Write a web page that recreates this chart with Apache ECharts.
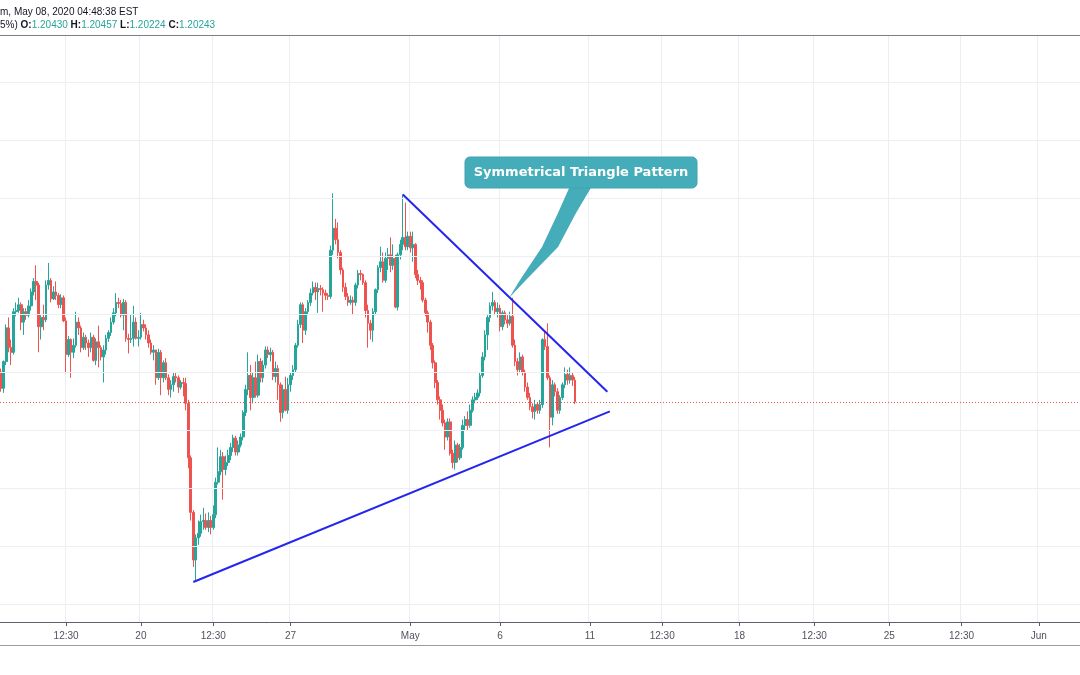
<!DOCTYPE html>
<html><head><meta charset="utf-8">
<script src="https://cdn.jsdelivr.net/npm/echarts/dist/echarts.min.js"></script>
<style>html,body{margin:0;padding:0;background:#fff}#c{width:1080px;height:675px}</style>
</head><body><div id="c"></div>
<script>
// ---- x axis: 2-hour slots (trading sessions), incl. empty future slots ----
const N_SLOTS = 433;
const tickIdx  = [26, 56, 85, 116, 164, 200, 236, 265, 296, 326, 356, 385, 416];
const tickText = ['12:30','20','12:30','27','May','6','11','12:30','18','12:30','25','12:30','Jun'];

// ---- OHLC (2h candles) ----
const open = [
1.2050,1.2036,1.2059,1.2088,1.2071,1.2067,1.2102,1.2103,1.2108,1.2093,
1.2102,1.2099,1.2107,1.2119,1.2128,1.2125,1.2089,1.2097,1.2095,1.2125,
1.2129,1.2113,1.2119,1.2116,1.2108,1.2114,1.2094,1.2065,1.2078,1.2067,
1.2073,1.2093,1.2088,1.2071,1.2080,1.2075,1.2071,1.2080,1.2060,1.2076,
1.2071,1.2063,1.2069,1.2079,1.2084,1.2093,1.2101,1.2110,1.2109,1.2099,
1.2110,1.2079,1.2078,1.2079,1.2093,1.2079,1.2080,1.2091,1.2088,1.2082,
1.2075,1.2067,1.2069,1.2045,1.2067,1.2045,1.2058,1.2045,1.2035,1.2039,
1.2046,1.2045,1.2037,1.2041,1.2040,1.2023,1.1976,1.1929,1.1888,1.1907,
1.1911,1.1921,1.1922,1.1916,1.1922,1.1916,1.1927,1.1955,1.1964,1.1977,
1.1966,1.1972,1.1978,1.1985,1.1993,1.1981,1.1987,1.1994,1.2015,1.2035,
1.2047,1.2028,1.2045,1.2030,1.2059,1.2045,1.2056,1.2069,1.2065,1.2067,
1.2046,1.2053,1.2039,1.2015,1.2035,1.2017,1.2039,1.2047,1.2052,1.2073,
1.2091,1.2108,1.2086,1.2102,1.2110,1.2118,1.2123,1.2119,1.2122,1.2121,
1.2118,1.2116,1.2115,1.2155,1.2174,1.2164,1.2153,1.2138,1.2123,1.2115,
1.2110,1.2112,1.2110,1.2125,1.2135,1.2134,1.2127,1.2103,1.2092,1.2086,
1.2102,1.2121,1.2140,1.2145,1.2129,1.2148,1.2151,1.2142,1.2148,1.2106,
1.2151,1.2160,1.2166,1.2158,1.2167,1.2157,1.2160,1.2134,1.2129,1.2127,
1.2112,1.2101,1.2093,1.2073,1.2058,1.2041,1.2026,1.2017,1.2006,1.1994,
1.2007,1.1980,1.1972,1.1987,1.1976,1.1985,1.2004,1.2009,1.2004,1.2017,
1.2026,1.2028,1.2032,1.2047,1.2063,1.2082,1.2097,1.2107,1.2110,1.2102,
1.2105,1.2089,1.2101,1.2095,1.2092,1.2098,1.2073,1.2059,1.2052,1.2063,
1.2050,1.2037,1.2028,1.2020,1.2016,1.2022,1.2017,1.2022,1.2078,1.2072,
1.2045,1.2011,1.2039,1.2033,1.2017,1.2028,1.2039,1.2048,1.2043,1.2047,
1.20430];
const high = [
1.2053,1.2060,1.2091,1.2097,1.2078,1.2105,1.2110,1.2114,1.2110,1.2105,
1.2105,1.2112,1.2122,1.2131,1.2142,1.2127,1.2099,1.2108,1.2129,1.2144,
1.2131,1.2124,1.2128,1.2118,1.2117,1.2116,1.2097,1.2081,1.2079,1.2079,
1.2102,1.2097,1.2090,1.2084,1.2082,1.2078,1.2084,1.2082,1.2079,1.2090,
1.2073,1.2073,1.2082,1.2086,1.2097,1.2105,1.2118,1.2114,1.2112,1.2113,
1.2112,1.2083,1.2099,1.2107,1.2097,1.2086,1.2101,1.2095,1.2091,1.2086,
1.2078,1.2073,1.2069,1.2070,1.2069,1.2060,1.2062,1.2048,1.2043,1.2050,
1.2050,1.2047,1.2043,1.2045,1.2045,1.2026,1.1978,1.1931,1.1910,1.1922,
1.1927,1.1933,1.1928,1.1929,1.1926,1.1935,1.1959,1.1985,1.1983,1.1981,
1.1978,1.1983,1.1989,1.1996,1.1995,1.1991,1.1997,1.2017,1.2039,1.2067,
1.2056,1.2050,1.2059,1.2065,1.2062,1.2060,1.2072,1.2072,1.2071,1.2069,
1.2059,1.2056,1.2041,1.2039,1.2046,1.2045,1.2050,1.2056,1.2075,1.2095,
1.2110,1.2110,1.2105,1.2112,1.2122,1.2128,1.2127,1.2127,1.2125,1.2123,
1.2121,1.2118,1.2159,1.2204,1.2182,1.2179,1.2155,1.2140,1.2127,1.2118,
1.2116,1.2115,1.2127,1.2138,1.2138,1.2135,1.2129,1.2108,1.2095,1.2105,
1.2122,1.2142,1.2158,1.2153,1.2153,1.2157,1.2166,1.2160,1.2151,1.2153,
1.2164,1.2203,1.2196,1.2171,1.2171,1.2171,1.2161,1.2138,1.2132,1.2129,
1.2114,1.2103,1.2095,1.2075,1.2060,1.2043,1.2029,1.2022,1.2009,1.2010,
1.2010,1.1983,1.1991,1.1989,1.1988,1.2009,1.2012,1.2016,1.2022,1.2029,
1.2032,1.2035,1.2050,1.2067,1.2086,1.2099,1.2110,1.2119,1.2112,1.2110,
1.2108,1.2103,1.2103,1.2099,1.2102,1.2114,1.2078,1.2062,1.2067,1.2065,
1.2052,1.2041,1.2032,1.2023,1.2026,1.2024,1.2026,1.2079,1.2086,1.2092,
1.2047,1.2043,1.2041,1.2036,1.2030,1.2041,1.2054,1.2052,1.2054,1.2050,
1.20457];
const low = [
1.2033,1.2032,1.2056,1.2067,1.2056,1.2065,1.2098,1.2101,1.2086,1.2082,
1.2095,1.2097,1.2103,1.2116,1.2112,1.2067,1.2078,1.2086,1.2093,1.2121,
1.2110,1.2112,1.2112,1.2105,1.2105,1.2093,1.2049,1.2063,1.2045,1.2062,
1.2071,1.2082,1.2067,1.2069,1.2069,1.2063,1.2067,1.2059,1.2056,1.2054,
1.2060,1.2041,1.2065,1.2076,1.2081,1.2091,1.2098,1.2105,1.2097,1.2086,
1.2076,1.2066,1.2075,1.2072,1.2078,1.2072,1.2078,1.2085,1.2078,1.2071,
1.2065,1.2060,1.2039,1.2043,1.2030,1.2041,1.2043,1.2030,1.2028,1.2033,
1.2041,1.2032,1.2035,1.2029,1.2017,1.1967,1.1922,1.1882,1.1869,1.1901,
1.1908,1.1914,1.1914,1.1912,1.1910,1.1914,1.1924,1.1953,1.1961,1.1940,
1.1961,1.1969,1.1974,1.1981,1.1978,1.1978,1.1985,1.1991,1.2012,1.2030,
1.2017,1.2023,1.2028,1.2028,1.2041,1.2041,1.2053,1.2062,1.2059,1.2043,
1.2041,1.2026,1.2007,1.2010,1.2016,1.2014,1.2033,1.2043,1.2050,1.2071,
1.2088,1.2075,1.2082,1.2099,1.2107,1.2116,1.2112,1.2101,1.2116,1.2102,
1.2112,1.2112,1.2113,1.2151,1.2160,1.2148,1.2134,1.2119,1.2112,1.2107,
1.2108,1.2099,1.2107,1.2122,1.2129,1.2125,1.2097,1.2071,1.2078,1.2076,
1.2099,1.2118,1.2136,1.2127,1.2127,1.2138,1.2136,1.2138,1.2105,1.2103,
1.2147,1.2155,1.2155,1.2155,1.2153,1.2145,1.2131,1.2125,1.2121,1.2110,
1.2098,1.2084,1.2069,1.2053,1.2036,1.2022,1.2009,1.2003,1.1983,1.1991,
1.1978,1.1967,1.1966,1.1972,1.1974,1.1983,1.2000,1.2000,1.2002,1.2015,
1.2023,1.2026,1.2029,1.2045,1.2060,1.2069,1.2093,1.2103,1.2099,1.2097,
1.2085,1.2086,1.2091,1.2088,1.2090,1.2071,1.2055,1.2047,1.2049,1.2047,
1.2033,1.2026,1.2017,1.2010,1.2009,1.2014,1.2014,1.2019,1.2069,1.2043,
1.1985,1.2004,1.2029,1.2014,1.2014,1.2026,1.2036,1.2039,1.2040,1.2038,
1.20224];
const close = [
1.2036,1.2059,1.2088,1.2071,1.2067,1.2102,1.2103,1.2108,1.2093,1.2102,
1.2099,1.2107,1.2119,1.2128,1.2125,1.2089,1.2097,1.2095,1.2125,1.2129,
1.2113,1.2119,1.2116,1.2108,1.2114,1.2094,1.2065,1.2078,1.2067,1.2073,
1.2093,1.2088,1.2071,1.2080,1.2075,1.2071,1.2080,1.2060,1.2076,1.2071,
1.2063,1.2069,1.2079,1.2084,1.2093,1.2101,1.2110,1.2109,1.2099,1.2110,
1.2079,1.2078,1.2079,1.2093,1.2079,1.2080,1.2091,1.2088,1.2082,1.2075,
1.2067,1.2069,1.2045,1.2067,1.2045,1.2058,1.2045,1.2035,1.2039,1.2046,
1.2045,1.2037,1.2041,1.2040,1.2023,1.1976,1.1929,1.1888,1.1907,1.1911,
1.1921,1.1922,1.1916,1.1922,1.1916,1.1927,1.1955,1.1964,1.1977,1.1966,
1.1972,1.1978,1.1985,1.1993,1.1981,1.1987,1.1994,1.2015,1.2035,1.2047,
1.2028,1.2045,1.2030,1.2059,1.2045,1.2056,1.2069,1.2065,1.2067,1.2046,
1.2053,1.2039,1.2015,1.2035,1.2017,1.2039,1.2047,1.2052,1.2073,1.2091,
1.2108,1.2086,1.2102,1.2110,1.2118,1.2123,1.2119,1.2122,1.2121,1.2118,
1.2116,1.2115,1.2155,1.2174,1.2164,1.2153,1.2138,1.2123,1.2115,1.2110,
1.2112,1.2110,1.2125,1.2135,1.2134,1.2127,1.2103,1.2092,1.2086,1.2102,
1.2121,1.2140,1.2145,1.2129,1.2148,1.2151,1.2142,1.2148,1.2106,1.2151,
1.2160,1.2166,1.2158,1.2167,1.2157,1.2160,1.2134,1.2129,1.2127,1.2112,
1.2101,1.2093,1.2073,1.2058,1.2041,1.2026,1.2017,1.2006,1.1994,1.2007,
1.1980,1.1972,1.1987,1.1976,1.1985,1.2004,1.2009,1.2004,1.2017,1.2026,
1.2028,1.2032,1.2047,1.2063,1.2082,1.2097,1.2107,1.2110,1.2102,1.2105,
1.2089,1.2101,1.2095,1.2092,1.2098,1.2073,1.2059,1.2052,1.2063,1.2050,
1.2037,1.2028,1.2020,1.2016,1.2022,1.2017,1.2022,1.2078,1.2072,1.2045,
1.2011,1.2039,1.2033,1.2017,1.2028,1.2039,1.2048,1.2043,1.2047,1.20430,
1.20243];

// ---- price grid levels, current price, trend lines ([slot index, price]) ----
const priceLevels = [1.185, 1.190, 1.195, 1.200, 1.205, 1.210, 1.215, 1.220, 1.225, 1.230];
const lastPrice = 1.20243;
const upperLine = [[161, 1.2203], [243, 1.2033]];
const lowerLine = [[77, 1.1869], [244, 1.2016]];
const yMin = 1.18345, yMax = 1.23405;

const categories = Array.from({length: N_SLOTS}, (_, i) => String(i));
const tickMap = {};
tickIdx.forEach((k, j) => { tickMap[k] = tickText[j]; });
const isTick = (i) => tickMap[i] !== undefined;
const candles = open.map((o, i) => [o, close[i], low[i], high[i]]);

const UP = '#26a69a', DOWN = '#ef5350', GRIDC = '#ebeff4';
const FONT = '"Liberation Sans", Arial, sans-serif';

const chart = echarts.init(document.getElementById('c'), null, {renderer: 'canvas', width: 1080, height: 675});
chart.setOption({
  animation: false,
  backgroundColor: '#ffffff',
  grid: {left: 0, right: 0, top: 35, bottom: 53, containLabel: false, outerBoundsMode: 'none'},
  xAxis: {
    type: 'category', data: categories, boundaryGap: true,
    axisLine: {show: true, lineStyle: {color: '#5d606b', width: 1}},
    axisTick: {show: true, alignWithLabel: true, interval: (i) => isTick(i), length: 4, lineStyle: {color: '#5d606b'}},
    axisLabel: {show: true, interval: (i) => isTick(i), formatter: (v, i) => tickMap[i] || '',
                color: '#50535e', fontSize: 10, margin: 9, fontFamily: FONT},
    splitLine: {show: true, interval: (i) => isTick(i), lineStyle: {color: GRIDC, width: 1}}
  },
  yAxis: {type: 'value', min: yMin, max: yMax, show: false, splitLine: {show: false}},
  series: [
    {
      type: 'line', data: [], silent: true, z: 1,
      markLine: {
        silent: true, symbol: ['none', 'none'], animation: false, label: {show: false}, precision: 6,
        lineStyle: {color: GRIDC, width: 1, type: 'solid'},
        emphasis: {disabled: true},
        data: priceLevels.map(v => ({yAxis: v}))
      }
    },
    {
      type: 'candlestick', data: candles, z: 3, barWidth: 2.2,
      itemStyle: {color: UP, color0: DOWN, borderColor: UP, borderColor0: DOWN, borderWidth: 1},
      markLine: {
        silent: true, symbol: ['none', 'none'], animation: false, label: {show: false}, precision: 6,
        lineStyle: {color: DOWN, width: 1, type: [1, 2]},
        emphasis: {disabled: true},
        data: [{yAxis: lastPrice}]
      }
    },
    {type: 'line', data: upperLine, symbol: 'none', silent: true, z: 5,
     lineStyle: {color: '#2525f0', width: 2}},
    {type: 'line', data: lowerLine, symbol: 'none', silent: true, z: 5,
     lineStyle: {color: '#2525f0', width: 2}}
  ],
  graphic: [
    {type: 'line', z: 10, shape: {x1: 0, y1: 35.5, x2: 1080, y2: 35.5}, style: {stroke: '#7b7e87', lineWidth: 1}},
    {type: 'line', z: 10, shape: {x1: 0, y1: 645.5, x2: 1080, y2: 645.5}, style: {stroke: '#9a9da6', lineWidth: 1}},
    {type: 'text', z: 10, x: 0, y: 12, style: {text: 'm, May 08, 2020 04:48:38 EST', fill: '#131722',
      font: '10px ' + FONT, verticalAlign: 'middle', textVerticalAlign: 'middle'}},
    {type: 'text', z: 10, x: 0, y: 25, style: {
      text: '{d|5%)} {b|O:}{v|1.20430} {b|H:}{v|1.20457} {b|L:}{v|1.20224} {b|C:}{v|1.20243}',
      verticalAlign: 'middle', textVerticalAlign: 'middle', font: '10px ' + FONT,
      rich: {
        d: {fill: '#131722', fontSize: 10, fontFamily: FONT},
        b: {fill: '#131722', fontSize: 10, fontFamily: FONT, fontWeight: 'bold'},
        v: {fill: '#26a69a', fontSize: 10, fontFamily: FONT}
      }}},
    {type: 'polygon', z: 20, shape: {points: [[570, 186], [558, 213], [542, 247], [520, 280], [509, 298],
      [526, 280], [558, 247], [576, 213], [592, 186]]}, style: {fill: '#45adb9'}},
    {type: 'rect', z: 21, shape: {x: 465, y: 157, width: 232, height: 31, r: 5},
      style: {fill: '#45adb9', stroke: '#3fa4b0', lineWidth: 1}},
    {type: 'text', z: 22, x: 581, y: 172.5, style: {text: 'Symmetrical Triangle Pattern', fill: '#ffffff',
      font: 'bold 13px "DejaVu Sans", Verdana, sans-serif', align: 'center', verticalAlign: 'middle',
      textAlign: 'center', textVerticalAlign: 'middle'}}
  ]
});
</script>
</body></html>
